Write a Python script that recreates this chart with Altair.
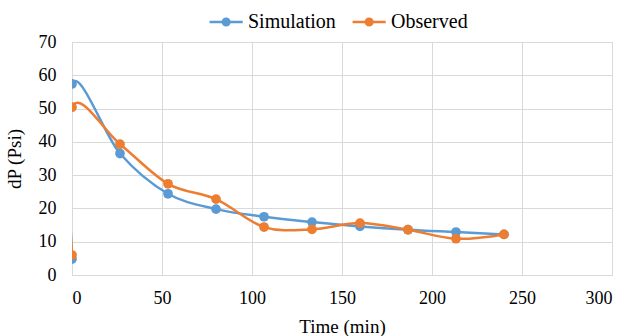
import altair as alt
import pandas as pd

# Pressure drop readings over time (two readings logged at t = 0)
time_min = [0, 0, 26.67, 53.33, 80, 106.67, 133.33, 160, 186.67, 213.33, 240]
simulation = [4.8, 57.4, 36.5, 24.4, 19.8, 17.5, 15.9, 14.6, 13.6, 12.9, 12.2]
observed = [6.0, 50.4, 39.3, 27.4, 22.8, 14.4, 13.7, 15.6, 13.6, 10.9, 12.2]

series_names = ["Simulation", "Observed"]
series_colors = ["#5B9BD5", "#ED7D31"]

rows = []
for name, values in zip(series_names, [simulation, observed]):
    for i, (t, v) in enumerate(zip(time_min, values)):
        rows.append({"series": name, "idx": i, "time": t, "dp": v})
df = pd.DataFrame(rows)

FONT = "Liberation Serif"

# legend glyph: a short line with a filled dot in the middle (shifted right)
legend_glyph = (
    "M-0.75,0L1.25,0 "
    "M0.05,0a0.2,0.2 0 1,0 0.4,0a0.2,0.2 0 1,0 -0.4,0 "
    "M0.14,0a0.11,0.11 0 1,0 0.22,0a0.11,0.11 0 1,0 -0.22,0 "
    "M0.22,0a0.03,0.03 0 1,0 0.06,0a0.03,0.03 0 1,0 -0.06,0"
)

x_enc = alt.X(
    "time:Q",
    scale=alt.Scale(domain=[0, 300], nice=False),
    axis=alt.Axis(values=[0, 50, 100, 150, 200, 250, 300], title="Time (min)"),
)
y_enc = alt.Y(
    "dp:Q",
    scale=alt.Scale(domain=[0, 70], nice=False),
    axis=alt.Axis(values=[0, 10, 20, 30, 40, 50, 60, 70], title="dP (Psi)"),
)
color_enc = alt.Color(
    "series:N",
    scale=alt.Scale(domain=series_names, range=series_colors),
    legend=alt.Legend(
        title=None,
        orient="none",
        legendX=132,
        legendY=-38,
        direction="horizontal",
        columns=2,
        symbolType=legend_glyph,
        symbolSize=1100,
        symbolStrokeWidth=2.5,
        labelFont=FONT,
        labelFontSize=20,
        labelColor="#000000",
        columnPadding=11,
        labelOffset=8,
    ),
)

lines = alt.Chart(df).mark_line(
    interpolate="cardinal", strokeWidth=2.5, clip=True
).encode(x=x_enc, y=y_enc, color=color_enc, order="idx:Q", detail="series:N")

points = alt.Chart(df).mark_circle(size=95, opacity=1, clip=True).encode(
    x=x_enc, y=y_enc, color=color_enc
)

chart = (
    alt.layer(lines, points)
    .properties(
        width=540,
        height=233,
        autosize=alt.AutoSizeParams(type="none"),
        padding={"left": 72, "top": 42, "right": 16, "bottom": 61},
        background="#ffffff",
    )
    .configure_view(stroke="#D9D9D9", strokeWidth=1)
    .configure_axis(
        grid=True,
        gridColor="#D9D9D9",
        gridWidth=1,
        domainColor="#D9D9D9",
        domainWidth=1,
        ticks=False,
        labelFont=FONT,
        labelFontSize=18,
        labelColor="#000000",
        titleFont=FONT,
        titleFontSize=19,
        titleFontWeight="normal",
        titleColor="#000000",
    )
    .configure_axisX(labelPadding=14, titlePadding=10)
    .configure_axisY(labelPadding=16, titlePadding=14)
)

chart.save("out.html", embed_options={"renderer": "svg", "actions": False})
